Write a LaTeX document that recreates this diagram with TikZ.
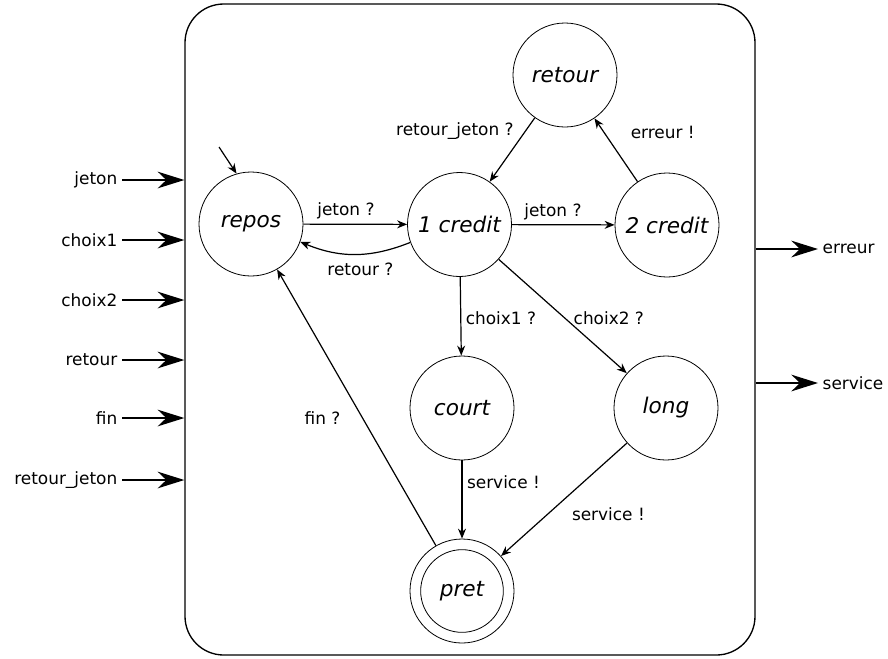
\documentclass[tikz,border=0pt]{standalone}
\usepackage{fontspec}
\setmainfont{DejaVu Sans}
\usepackage{tikz}
\usetikzlibrary{arrows.meta}

\begin{document}
\begin{tikzpicture}[>={Stealth[length=7.5pt,width=6pt]}, x=0.75pt, y=-0.75pt,
    state/.style={circle, draw, line width=0.6pt, minimum size=78pt, inner sep=0pt,
      font=\fontsize{16.2}{19}\selectfont\itshape},
    trans/.style={->, line width=0.9pt},
    lbl/.style={font=\fontsize{12.7}{15}\selectfont},
    port/.style={-{Stealth[length=20pt,width=12.5pt]}, line width=1.3pt}]
  \useasboundingbox (0,0) rectangle (888,658);
  \node[draw, line width=1pt, rounded corners=29pt, minimum width=427.5pt,
    minimum height=488.25pt, inner sep=0pt] (box) at (470,329.5) {};
  \node[state] (repos)   at (251,224) {repos};
  \node[state] (credit1) at (459.5,224.5) {1 credit};
  \node[state] (credit2) at (667,225) {2 credit};
  \node[state] (retour)  at (565,75) {retour};
  \node[state] (court)   at (462,408) {court};
  \node[state] (long)    at (666,408) {long};
  \node[state] (pret)    at (462,591) {pret};
  \node[circle, draw, line width=0.6pt, minimum size=62pt] (pretin) at (pret) {};
  \coordinate (init) at (219,147);
  \draw[trans] (init) -- (repos.106);
  \draw[trans] (repos) -- (credit1) node[lbl, pos=0.41, above=0pt] (lj1) {jeton ?};
  \draw[trans] (credit1.200) to[bend left=22] node[lbl, pos=0.45, below=3pt] (lr) {retour ?} (repos.-20);
  \draw[trans] (credit1) -- (credit2) node[lbl, pos=0.4, above=0pt] (lj2) {jeton ?};
  \draw[trans] (retour) -- (credit1) node[lbl, pos=0.21, left=5pt] (lrj) {retour\_jeton ?};
  \draw[trans] (credit2) -- (retour) node[lbl, pos=0.77, right=16pt] (le) {erreur !};
  \draw[trans] (credit1) -- (court) node[lbl, pos=0.52, right=0pt] (lc1) {choix1 ?};
  \draw[trans] (credit1) -- (long) node[lbl, pos=0.52, right=2.5pt] (lc2) {choix2 ?};
  \draw[trans] (court) -- (pret) node[lbl, pos=0.28, right=0pt] (ls1) {service !};
  \draw[trans] (long) -- (pret) node[lbl, pos=0.63, right=14.5pt] (ls2) {service !};
  \draw[trans] (pret) -- (repos) node[lbl, pos=0.46, left=13pt] (lf) {fin ?};
  % entrees et sorties
  \foreach \nom/\yy [count=\i] in {jeton/180, choix1/240, choix2/300, retour/360,
      fin/418, retour\_jeton/480} {
    \node[lbl, anchor=east] (in\i) at (122,\yy) {\nom};
    \draw[port] (in\i.east) -- (in\i -| box.west);
  }
  \foreach \nom/\yy [count=\i] in {erreur/249, service/383} {
    \node[lbl, anchor=west] (out\i) at (818,\yy) {\nom};
    \draw[port] (out\i -| box.east) -- (out\i.west);
  }
\end{tikzpicture}
\end{document}
